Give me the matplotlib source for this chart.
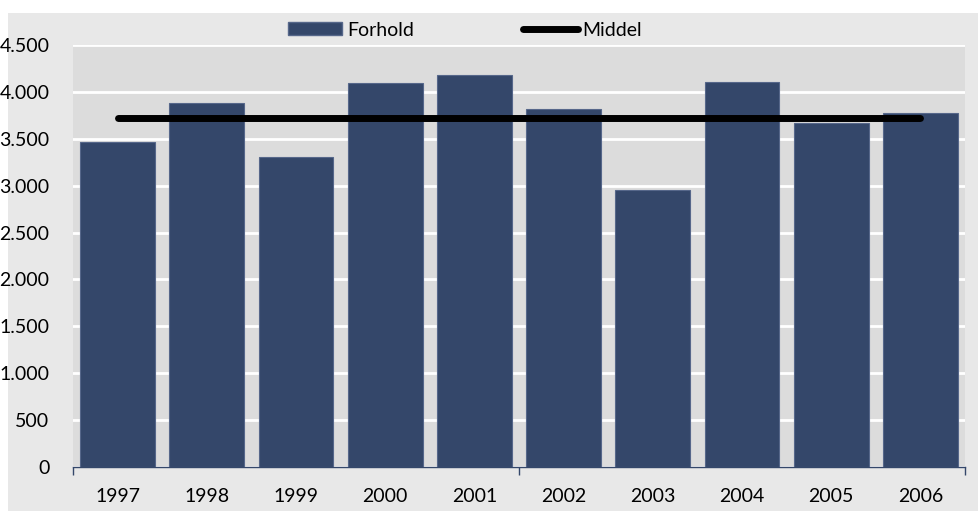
import matplotlib.pyplot as plt
from matplotlib.patches import Rectangle, Patch
from matplotlib.lines import Line2D

plt.rcParams['font.family'] = ['Lato', 'DejaVu Sans']

years = ['1997', '1998', '1999', '2000', '2001', '2002', '2003', '2004', '2005', '2006']
forhold = [3470, 3880, 3305, 4095, 4180, 3815, 2955, 4105, 3665, 3775]
middel = 3725

bar_col = '#34476a'

fig = plt.figure(figsize=(9.79, 5.11), dpi=100, facecolor='white')
# light grey panel behind everything
fig.patches.append(Rectangle((8 / 979, 0), 1 - 8 / 979, 1 - 13 / 511,
                             transform=fig.transFigure, facecolor='#e8e8e8',
                             edgecolor='none', zorder=-10))

ax = fig.add_axes([73 / 979, 1 - 467 / 511, (965 - 73) / 979, (467 - 45) / 511])
ax.set_facecolor('#dcdcdc')

x = list(range(len(years)))
ax.bar(x, forhold, width=0.84, color=bar_col, edgecolor='#56678a', linewidth=0.8, zorder=3)
ax.plot([x[0], x[-1]], [middel, middel], color='black', lw=5, solid_capstyle='round', zorder=4)

ax.set_xlim(-0.5, len(years) - 0.5)
ax.set_ylim(0, 4500)
ax.set_yticks(range(0, 4501, 500))
ax.set_yticklabels([f'{v:,}'.replace(',', '.') for v in range(0, 4501, 500)])
ax.yaxis.grid(True, color='white', lw=2, zorder=1)
ax.set_axisbelow(True)

ax.set_xticks(x)
ax.set_xticklabels(years)
ax.set_xticks([-0.5, 4.5, 9.5], minor=True)
ax.tick_params(axis='x', which='major', length=0, pad=15, labelsize=14)
ax.tick_params(axis='x', which='minor', length=6, width=1, color=bar_col, direction='out')
ax.tick_params(axis='y', length=0, pad=17, labelsize=14)

for s in ['top', 'right', 'left']:
    ax.spines[s].set_visible(False)
ax.spines['bottom'].set_color(bar_col)
ax.spines['bottom'].set_linewidth(1)

handles = [Patch(facecolor=bar_col, edgecolor='#56678a'),
           Line2D([], [], color='black', lw=5, solid_capstyle='round')]
fig.legend(handles, ['Forhold', 'Middel'], loc='center left',
           bbox_to_anchor=(288 / 979, 1 - 30 / 511), ncol=2, frameon=False,
           fontsize=14, handlelength=2.8, handletextpad=0.25, columnspacing=5.6,
           borderpad=0, borderaxespad=0)

fig.savefig('out.png', dpi=100, facecolor='white')
